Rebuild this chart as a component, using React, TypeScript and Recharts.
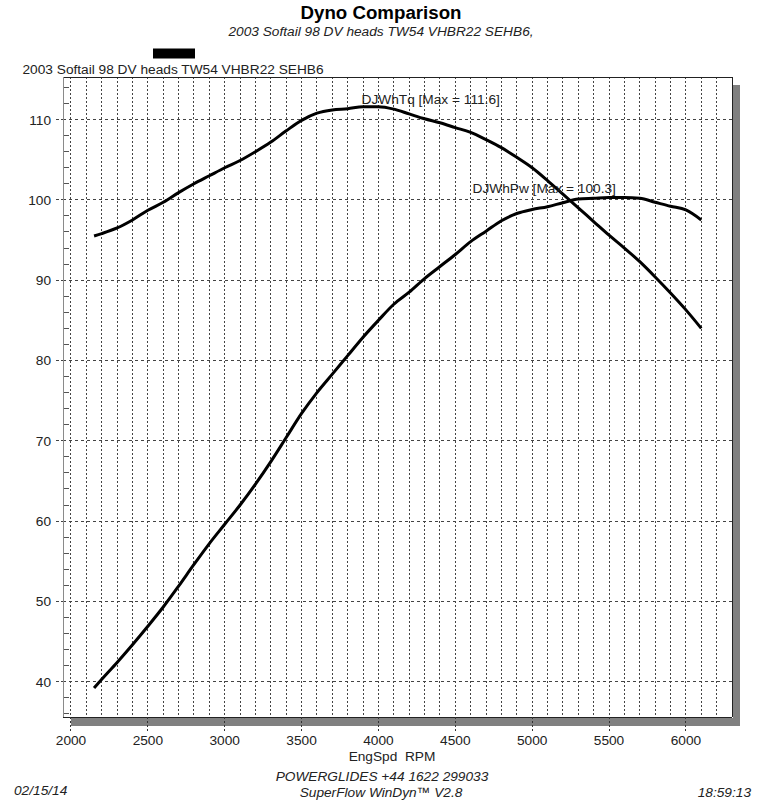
import React from "react";
import {
  LineChart, Line, XAxis, YAxis, CartesianGrid, ReferenceLine, ReferenceDot,
} from "recharts";

// engine speed (rpm) and the two runs
const rpm = [
  2150, 2200, 2300, 2400, 2500, 2600, 2700, 2800, 2900, 3000,
  3100, 3200, 3300, 3400, 3500, 3600, 3700, 3800, 3900, 4000,
  4100, 4200, 4300, 4400, 4500, 4600, 4700, 4800, 4900, 5000,
  5100, 5200, 5300, 5400, 5500, 5600, 5700, 5800, 5900, 6000, 6100,
];
const torque = [
  95.5, 95.8, 96.5, 97.5, 98.7, 99.7, 100.9, 102.0, 103.0, 104.0,
  104.9, 106.0, 107.2, 108.6, 109.9, 110.8, 111.2, 111.35, 111.6, 111.6,
  111.3, 110.7, 110.1, 109.6, 109.0, 108.4, 107.5, 106.5, 105.3, 104.0,
  102.4, 100.7, 99.0, 97.3, 95.6, 94.0, 92.3, 90.4, 88.4, 86.3, 84.0,
];
const power = [
  39.2, 40.3, 42.4, 44.6, 46.9, 49.3, 51.9, 54.6, 57.2, 59.6,
  62.0, 64.6, 67.4, 70.4, 73.4, 76.0, 78.3, 80.6, 82.9, 85.0,
  87.0, 88.5, 90.2, 91.7, 93.2, 94.8, 96.1, 97.4, 98.3, 98.8,
  99.15, 99.65, 100.1, 100.2, 100.3, 100.3, 100.2, 99.7, 99.2, 98.75, 97.5,
];

const xTicks = [2000, 2500, 3000, 3500, 4000, 4500, 5000, 5500, 6000];
const yMajor = [40, 50, 60, 70, 80, 90, 100, 110];

const X_DOMAIN: [number, number] = [1948, 6300];
const Y_DOMAIN: [number, number] = [35.6, 115.3];

const FONT = "'Liberation Sans', Arial, sans-serif";
const FS = 13.7;
const AXIS_X = 63;

const data = rpm.map((r, i) => ({ rpm: r, tq: torque[i], pw: power[i] }));

// minor ticks every 2 units, grid every 100 rpm
const yTicks: number[] = [];
for (let v = 36; v <= 114; v += 2) yTicks.push(v);
const vGrid: number[] = [];
for (let r = 2000; r <= 6200; r += 100) vGrid.push(r);

// eslint-disable-next-line @typescript-eslint/no-explicit-any
const YTick = ({ y, payload }: any) => {
  const v = payload.value;
  if (v % 10 === 0) {
    return (
      <g>
        <line x1={AXIS_X - 7} x2={AXIS_X} y1={y} y2={y} stroke="#444" strokeDasharray="3 2" shapeRendering="crispEdges" />
        <text x={51} y={y + 5} textAnchor="end" fontSize={FS} fontFamily={FONT} fill="#222">{v}</text>
      </g>
    );
  }
  return <line x1={AXIS_X + 1} x2={AXIS_X + 6} y1={y} y2={y} stroke="#555" shapeRendering="crispEdges" />;
};

// eslint-disable-next-line @typescript-eslint/no-explicit-any
const PeakLabel = ({ viewBox, text }: any) => {
  if (!viewBox) return null;
  const cx = viewBox.x + (viewBox.width || 0) / 2;
  const cy = viewBox.y + (viewBox.height || 0) / 2;
  return (
    <text x={cx} y={cy} fontSize={FS} fontFamily={FONT} fill="#222">{text}</text>
  );
};

export default function App() {
  return (
    <div style={{ position: "absolute", left: 0, top: 0, width: 762, height: 800, background: "#fff" }}>
      {/* drop shadow of the plot frame */}
      <div style={{ position: "absolute", left: 733, top: 85, width: 7, height: 641, background: "#808080" }} />
      <div style={{ position: "absolute", left: 71, top: 718, width: 669, height: 8, background: "#808080" }} />

      <div style={{ position: "absolute", left: 0, top: 0 }}>
        <LineChart width={762} height={800} data={data} margin={{ top: 77, right: 30, bottom: 53, left: 0 }}>
          <CartesianGrid horizontal={false} verticalValues={vGrid} stroke="#444" strokeDasharray="2 2" shapeRendering="crispEdges" />
          <CartesianGrid vertical={false} horizontalValues={yMajor} stroke="#444" strokeDasharray="3 3" shapeRendering="crispEdges" />
          <XAxis
            dataKey="rpm"
            type="number"
            domain={X_DOMAIN}
            ticks={xTicks}
            interval={0}
            allowDataOverflow
            height={30}
            tickSize={14}
            tickMargin={4}
            tickLine={{ stroke: "#333", strokeDasharray: "2 2", shapeRendering: "crispEdges" }}
            axisLine={{ stroke: "#222", shapeRendering: "crispEdges" }}
            tick={{ fontSize: FS, fontFamily: FONT, fill: "#222" }}
          />
          <YAxis
            type="number"
            domain={Y_DOMAIN}
            ticks={yTicks}
            allowDataOverflow
            width={63}
            tickLine={false}
            axisLine={{ stroke: "#8a8a8a", shapeRendering: "crispEdges" }}
            tick={<YTick />}
            interval={0}
          />
          <ReferenceLine y={Y_DOMAIN[1]} stroke="#222" shapeRendering="crispEdges" />
          <ReferenceLine x={X_DOMAIN[1]} stroke="#222" shapeRendering="crispEdges" />
          <Line dataKey="tq" type="monotone" stroke="#000" strokeWidth={3} dot={false} isAnimationActive={false} />
          <Line dataKey="pw" type="monotone" stroke="#000" strokeWidth={3} dot={false} isAnimationActive={false} />
          <ReferenceDot x={3890} y={111.9} r={1} fill="none" stroke="none"
            label={<PeakLabel text="DJWhTq [Max = 111.6]" />} />
          <ReferenceDot x={4612} y={100.9} r={1} fill="none" stroke="none"
            label={<PeakLabel text="DJWhPw [Max = 100.3]" />} />
        </LineChart>
      </div>

      <svg width={762} height={800} style={{ position: "absolute", left: 0, top: 0, pointerEvents: "none" }}>
        <text x={381} y={18.5} textAnchor="middle" fontSize={18.7} fontWeight="bold" fontFamily={FONT} fill="#000">
          Dyno Comparison
        </text>
        <text x={381} y={35.5} textAnchor="middle" fontSize={FS} fontStyle="italic" fontFamily={FONT} fill="#222">
          2003 Softail 98 DV heads TW54 VHBR22 SEHB6,
        </text>
        <rect x={153} y={48.5} width={42} height={10} fill="#000" />
        <text x={22.5} y={74} fontSize={FS} fontFamily={FONT} fill="#222">
          2003 Softail 98 DV heads TW54 VHBR22 SEHB6
        </text>
        <text x={392} y={761} textAnchor="middle" fontSize={FS} fontFamily={FONT} fill="#222" xmlSpace="preserve">
          EngSpd  RPM
        </text>
        <text x={382} y={781} textAnchor="middle" fontSize={FS} fontStyle="italic" fontFamily={FONT} fill="#222">
          POWERGLIDES +44 1622 299033
        </text>
        <text x={381} y={797} textAnchor="middle" fontSize={FS} fontStyle="italic" fontFamily={FONT} fill="#222">
          SuperFlow WinDyn™ V2.8
        </text>
        <text x={14} y={795} fontSize={FS} fontStyle="italic" fontFamily={FONT} fill="#222">02/15/14</text>
        <text x={751} y={797} textAnchor="end" fontSize={FS} fontStyle="italic" fontFamily={FONT} fill="#222">18:59:13</text>
      </svg>
    </div>
  );
}
